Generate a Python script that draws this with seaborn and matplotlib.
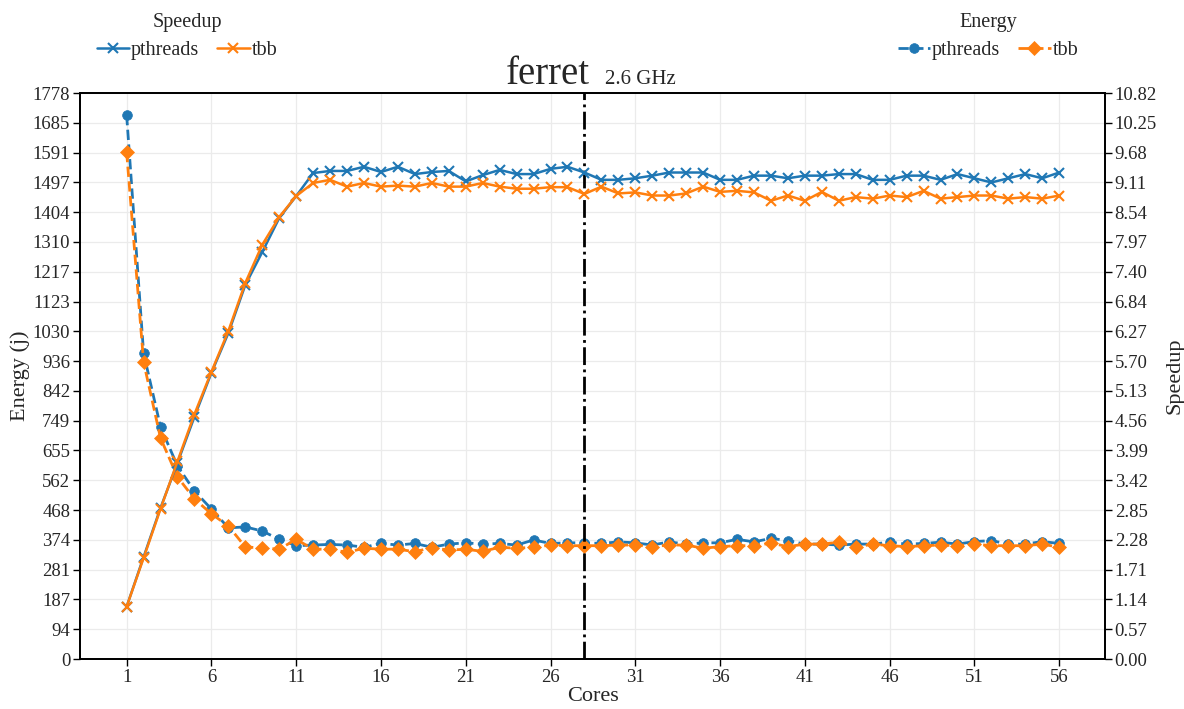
import numpy as np
import pandas as pd
import matplotlib
matplotlib.use("Agg")
import matplotlib.pyplot as plt
import seaborn as sns

cores = list(range(1, 57))

energy_pthreads = [1709, 961, 729, 606, 528, 471, 412, 415, 402, 376,
                   356, 358, 360, 358, 351, 363, 358, 363, 351, 361,
                   365, 361, 363, 358, 374, 363, 365, 365, 363, 368,
                   365, 358, 368, 361, 365, 365, 376, 368, 379, 372,
                   361, 361, 358, 361, 361, 367, 361, 363, 367, 361,
                   369, 372, 361, 361, 369, 363]
energy_tbb = [1593, 933, 694, 572, 503, 456, 418, 352, 349, 345,
              376, 345, 345, 335, 348, 345, 345, 337, 350, 342,
              345, 338, 351, 348, 351, 358, 356, 356, 356, 358,
              358, 353, 358, 358, 348, 353, 356, 356, 364, 353,
              361, 361, 367, 351, 361, 356, 353, 356, 358, 356,
              361, 356, 356, 356, 361, 351]
speedup_pthreads = [1.00, 1.95, 2.89, 3.75, 4.63, 5.47, 6.23, 7.15, 7.78, 8.43,
                    8.85, 9.29, 9.33, 9.33, 9.41, 9.31, 9.41, 9.27, 9.31, 9.33,
                    9.13, 9.25, 9.35, 9.27, 9.27, 9.37, 9.41, 9.30, 9.16, 9.16,
                    9.19, 9.24, 9.30, 9.30, 9.30, 9.16, 9.16, 9.24, 9.24, 9.19,
                    9.24, 9.24, 9.27, 9.27, 9.16, 9.16, 9.24, 9.24, 9.16, 9.27,
                    9.19, 9.11, 9.19, 9.27, 9.19, 9.30]
speedup_tbb = [1.00, 1.93, 2.87, 3.78, 4.68, 5.49, 6.27, 7.19, 7.92, 8.45,
               8.85, 9.10, 9.16, 9.03, 9.10, 9.03, 9.05, 9.03, 9.10, 9.03,
               9.03, 9.10, 9.03, 8.99, 8.99, 9.02, 9.02, 8.89, 9.03, 8.90,
               8.92, 8.86, 8.86, 8.90, 9.03, 8.93, 8.95, 8.92, 8.76, 8.86,
               8.76, 8.93, 8.76, 8.83, 8.80, 8.86, 8.83, 8.95, 8.80, 8.83,
               8.86, 8.86, 8.80, 8.83, 8.80, 8.86]

x_ticks = [1, 6, 11, 16, 21, 26, 31, 36, 41, 46, 51, 56]
energy_tick_labels = ["0", "94", "187", "281", "374", "468", "562", "655", "749", "842",
                      "936", "1030", "1123", "1217", "1310", "1404", "1497", "1591", "1685", "1778"]
speedup_tick_labels = ["0.00", "0.57", "1.14", "1.71", "2.28", "2.85", "3.42", "3.99", "4.56", "5.13",
                       "5.70", "6.27", "6.84", "7.40", "7.97", "8.54", "9.11", "9.68", "10.25", "10.82"]
energy_max = 1778.25
speedup_max = 10.82
marker_core = 28
series_names = ["pthreads", "tbb"]

sns.set_theme(style="ticks")
plt.rcParams['font.family'] = ['Liberation Serif', 'DejaVu Serif']

blue = "#1f77b4"
orange = "#ff7f0e"

fig = plt.figure(figsize=(11.84, 7.09), dpi=100)
ax = fig.add_axes([80 / 1184, 1 - 659 / 709, 1025 / 1184, 566 / 709])
ax2 = ax.twinx()

# Energy (left axis)
sns.lineplot(x=cores, y=energy_pthreads, ax=ax, color=blue, marker='o', linestyle='--',
             linewidth=2, markersize=7, markeredgecolor=blue, markeredgewidth=0.5,
             label=series_names[0], legend=False)
sns.lineplot(x=cores, y=energy_tbb, ax=ax, color=orange, marker='D', linestyle='--',
             linewidth=2, markersize=7, markeredgecolor=orange, markeredgewidth=0.5,
             label=series_names[1], legend=False)

# Speedup (right axis)
sns.lineplot(x=cores, y=speedup_pthreads, ax=ax2, color=blue, marker='x', linestyle='-',
             linewidth=1.8, markersize=7, markeredgecolor=blue, markeredgewidth=1.5,
             label=series_names[0], legend=False)
sns.lineplot(x=cores, y=speedup_tbb, ax=ax2, color=orange, marker='x', linestyle='-',
             linewidth=1.8, markersize=7, markeredgecolor=orange, markeredgewidth=1.5,
             label=series_names[1], legend=False)

ax.axvline(marker_core, color='black', linestyle='-.', linewidth=2, zorder=5)

ax.set_xlim(-1.75, 58.7)
ax.set_ylim(0, energy_max)
ax2.set_ylim(0, speedup_max)
ax.set_xticks(x_ticks)
ax.set_xticklabels([str(t) for t in x_ticks])
ax.set_yticks(np.linspace(0, energy_max, len(energy_tick_labels)))
ax.set_yticklabels(energy_tick_labels)
ax2.set_yticks(np.linspace(0, speedup_max, len(speedup_tick_labels)))
ax2.set_yticklabels(speedup_tick_labels)

ax.grid(True, color='#ebebeb', linewidth=0.9)
ax2.grid(False)
for a in (ax, ax2):
    a.tick_params(axis='both', labelsize=13.5, length=5, width=1, color='black',
                  direction='out', pad=2)
    for s in a.spines.values():
        s.set_color('black')
        s.set_linewidth(1.3)
        s.set_visible(True)

ax.set_xlabel("Cores", fontsize=16, labelpad=1)
ax.set_ylabel("Energy (j)", fontsize=16, labelpad=2)
ax2.set_ylabel("Speedup", fontsize=16, labelpad=6)

ax.text(0.4976, 1.016, "ferret", transform=ax.transAxes, ha='right', va='baseline',
        fontsize=28)
ax.text(0.512, 1.016, "2.6 GHz", transform=ax.transAxes, ha='left', va='baseline',
        fontsize=15)

h2, l2 = ax2.get_legend_handles_labels()
h1, l1 = ax.get_legend_handles_labels()
leg1 = fig.legend(h2, l2, title="Speedup", loc='upper center', bbox_to_anchor=(187 / 1184, 1.0),
                  ncol=2, frameon=False, fontsize=14.5, title_fontsize=14.5, handlelength=1.6,
                  handletextpad=0.1, columnspacing=0.9, borderaxespad=0.25, borderpad=0.4,
                  labelspacing=0.45)
leg2 = fig.legend(h1, l1, title="Energy", loc='upper center', bbox_to_anchor=(988 / 1184, 1.0),
                  ncol=2, frameon=False, fontsize=14.5, title_fontsize=14.5, handlelength=1.6,
                  handletextpad=0.1, columnspacing=0.9, borderaxespad=0.25, borderpad=0.4,
                  labelspacing=0.45)

fig.savefig("out.png", dpi=100)
